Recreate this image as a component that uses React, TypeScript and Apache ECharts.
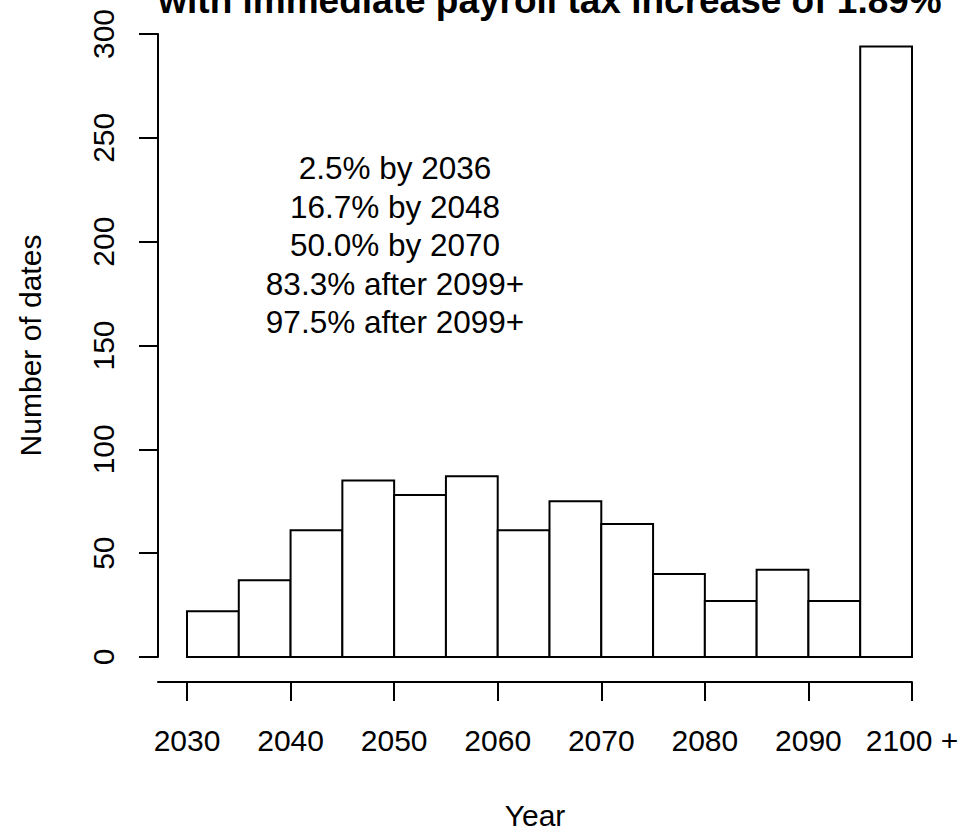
import React, { useEffect, useRef } from "react";
import * as echarts from "echarts";

const binStarts = [2030, 2035, 2040, 2045, 2050, 2055, 2060, 2065, 2070, 2075, 2080, 2085, 2090, 2095];
const binWidth = 5;
const counts = [22, 37, 61, 85, 78, 87, 61, 75, 64, 40, 27, 42, 27, 294];
const xTicks = [2030, 2040, 2050, 2060, 2070, 2080, 2090, 2100];
const xTickLabels = ["2030", "2040", "2050", "2060", "2070", "2080", "2090", "2100 +"];
const yTicks = [0, 50, 100, 150, 200, 250, 300];
const titleText = "with immediate payroll tax increase of 1.89%";
const noteLines = [
  "2.5% by 2036",
  "16.7% by 2048",
  "50.0% by 2070",
  "83.3% after 2099+",
  "97.5% after 2099+",
];
const xAxisTitle = "Year";
const yAxisTitle = "Number of dates";

const FONT = "'Liberation Sans', Arial, Helvetica, sans-serif";

export default function App() {
  const ref = useRef<HTMLDivElement>(null);

  useEffect(() => {
    if (!ref.current) return;
    const chart = echarts.init(ref.current, null, { renderer: "svg" });
    const data = binStarts.map((s, i) => [s, s + binWidth, counts[i]]);

    const option: any = {
      animation: false,
      backgroundColor: "#ffffff",
      textStyle: { fontFamily: FONT },
      grid: { left: 158, right: 63, top: 34, bottom: 173, containLabel: false },
      xAxis: {
        type: "value",
        min: 2027.2,
        max: 2100,
        offset: 25,
        name: xAxisTitle,
        nameLocation: "middle",
        nameGap: 118,
        nameTextStyle: { fontFamily: FONT, fontSize: 30, color: "#000" },
        axisLine: { show: true, onZero: false, lineStyle: { color: "#000", width: 2 } },
        axisTick: { show: true, customValues: xTicks, length: 19, lineStyle: { color: "#000", width: 2 } },
        axisLabel: {
          show: true,
          customValues: xTicks,
          margin: 43,
          fontFamily: FONT,
          fontSize: 30,
          color: "#000",
          formatter: (v: number) => {
            const idx = xTicks.indexOf(Math.round(v));
            return idx >= 0 ? xTickLabels[idx] : "";
          },
        },
        splitLine: { show: false },
      },
      yAxis: {
        type: "value",
        min: 0,
        max: 300,
        interval: 50,
        name: yAxisTitle,
        nameLocation: "middle",
        nameGap: 113,
        nameRotate: 90,
        nameTextStyle: { fontFamily: FONT, fontSize: 30, color: "#000" },
        axisLine: { show: true, onZero: false, lineStyle: { color: "#000", width: 2 } },
        axisTick: { show: true, length: 19, lineStyle: { color: "#000", width: 2 } },
        axisLabel: {
          show: true,
          rotate: 90,
          margin: 40,
          fontFamily: FONT,
          fontSize: 30,
          color: "#000",
          customValues: yTicks,
        },
        splitLine: { show: false },
      },
      series: [
        {
          type: "custom",
          data,
          encode: { x: [0, 1], y: 2 },
          renderItem: (params: any, api: any) => {
            const p0 = api.coord([api.value(0), api.value(2)]);
            const p1 = api.coord([api.value(1), 0]);
            return {
              type: "rect",
              shape: { x: p0[0], y: p0[1], width: p1[0] - p0[0], height: p1[1] - p0[1] },
              style: { fill: "#ffffff", stroke: "#000000", lineWidth: 2 },
            };
          },
        },
      ],
      graphic: [
        {
          type: "text",
          x: 550,
          y: 0,
          style: {
            text: titleText,
            fontFamily: FONT,
            fontSize: 37,
            fontWeight: "bold",
            fill: "#000",
            align: "center",
            verticalAlign: "middle",
          },
        },
        ...noteLines.map((t, i) => ({
          type: "text",
          x: 395,
          y: 168 + i * 38.5,
          style: {
            text: t,
            fontFamily: FONT,
            fontSize: 31.5,
            fill: "#000",
            align: "center",
            verticalAlign: "middle",
          },
        })),
      ],
    };

    chart.setOption(option);
    return () => chart.dispose();
  }, []);

  return (
    <div
      ref={ref}
      style={{ position: "fixed", left: 0, top: 0, width: 975, height: 835, background: "#fff" }}
    />
  );
}
